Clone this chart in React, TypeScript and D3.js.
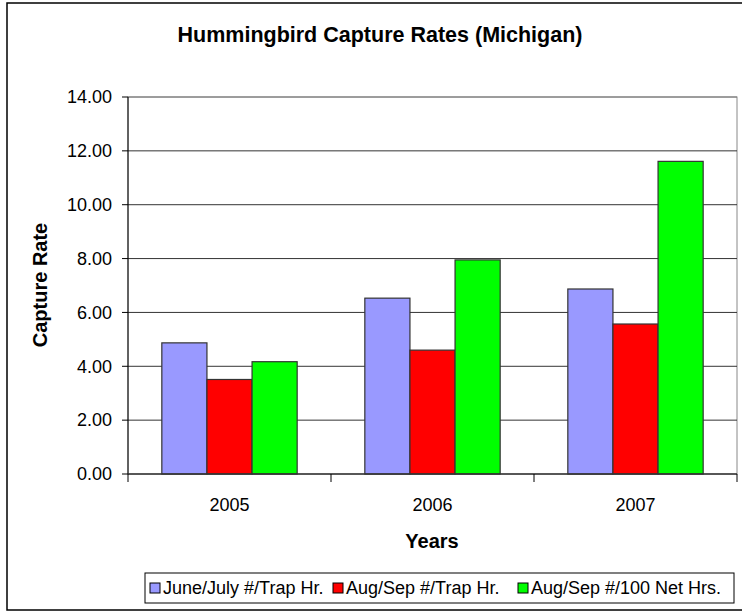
import React from "react";
import * as d3 from "d3";

const categories = ["2005", "2006", "2007"];
const seriesNames = ["June/July #/Trap Hr.", "Aug/Sep #/Trap Hr.", "Aug/Sep #/100 Net Hrs."];
const juneJuly = [4.87, 6.53, 6.87];
const augSepTrap = [3.51, 4.6, 5.57];
const augSepNet = [4.17, 7.95, 11.61];
const seriesColors = ["#9999FF", "#FF0000", "#00FF00"];
const yTicks = [0, 2, 4, 6, 8, 10, 12, 14];

export default function App() {
  const W = 742, H = 615;
  const left = 128, right = 737, top = 97, bottom = 474;
  const series = [juneJuly, augSepTrap, augSepNet];
  const x = d3.scaleBand().domain(categories).range([left, right]).paddingInner(0).paddingOuter(0);
  const y = d3.scaleLinear().domain([0, 14]).range([bottom, top]);
  const bw = x.bandwidth();
  const barW = bw / 4.5;
  const groupOff = (bw - 3 * barW) / 2;
  const font = "Arial, 'Liberation Sans', sans-serif";
  const fmt = d3.format(".2f");
  const boundaries = [left, ...categories.map((c) => (x(c) as number) + bw)];

  // legend layout
  const legTop = 573, legH = 30, legLeft = 145, legRight = 734;
  const itemStarts = [150, 333, 518];

  return (
    <svg width={W} height={H} style={{ position: "absolute", left: 0, top: 0, background: "#fff" }} fontFamily={font}>
      <rect x={0} y={0} width={W} height={H} fill="#fff" />
      <rect x={7} y={3} width={745} height={607} fill="none" stroke="#000" strokeWidth={1.5} />
      <text x={380} y={42} textAnchor="middle" fontSize={21.5} fontWeight="bold">
        Hummingbird Capture Rates (Michigan)
      </text>
      <rect x={left} y={top} width={right - left} height={bottom - top} fill="none" stroke="#888" strokeWidth={1} />
      {yTicks.map((t) => (
        <g key={t}>
          {t > 0 && <line x1={left} x2={right} y1={y(t)} y2={y(t)} stroke={t === 14 ? "#777" : "#333"} strokeWidth={1} />}
          <line x1={left - 6} x2={left} y1={y(t)} y2={y(t)} stroke="#000" />
          <text x={112} y={y(t)} dy="0.35em" textAnchor="end" fontSize={18}>
            {fmt(t)}
          </text>
        </g>
      ))}
      {categories.map((c, ci) =>
        series.map((s, si) => (
          <rect
            key={c + si}
            x={(x(c) as number) + groupOff + si * barW}
            y={y(s[ci])}
            width={barW}
            height={bottom - y(s[ci])}
            fill={seriesColors[si]}
            stroke="#333"
            strokeWidth={1.2}
          />
        ))
      )}
      <line x1={left} x2={left} y1={top} y2={bottom} stroke="#000" />
      <line x1={left} x2={right} y1={bottom} y2={bottom} stroke="#333" strokeWidth={1.5} />
      {boundaries.map((b, i) => (
        <line key={i} x1={b} x2={b} y1={bottom} y2={bottom + 8} stroke="#000" />
      ))}
      {categories.map((c) => (
        <text key={c} x={(x(c) as number) + bw / 2} y={511} textAnchor="middle" fontSize={18}>
          {c}
        </text>
      ))}
      <text x={432} y={548} textAnchor="middle" fontSize={20} fontWeight="bold">
        Years
      </text>
      <text transform="translate(47,285) rotate(-90)" textAnchor="middle" fontSize={20} fontWeight="bold">
        Capture Rate
      </text>
      <rect x={legLeft} y={legTop} width={legRight - legLeft} height={legH} fill="#fff" stroke="#000" strokeWidth={1} />
      {seriesNames.map((n, i) => (
        <g key={n}>
          <rect x={itemStarts[i]} y={legTop + 10} width={10} height={10} fill={seriesColors[i]} stroke="#000" strokeWidth={1} />
          <text x={itemStarts[i] + 13} y={legTop + 15} dy="0.35em" fontSize={18}>
            {n}
          </text>
        </g>
      ))}
    </svg>
  );
}
